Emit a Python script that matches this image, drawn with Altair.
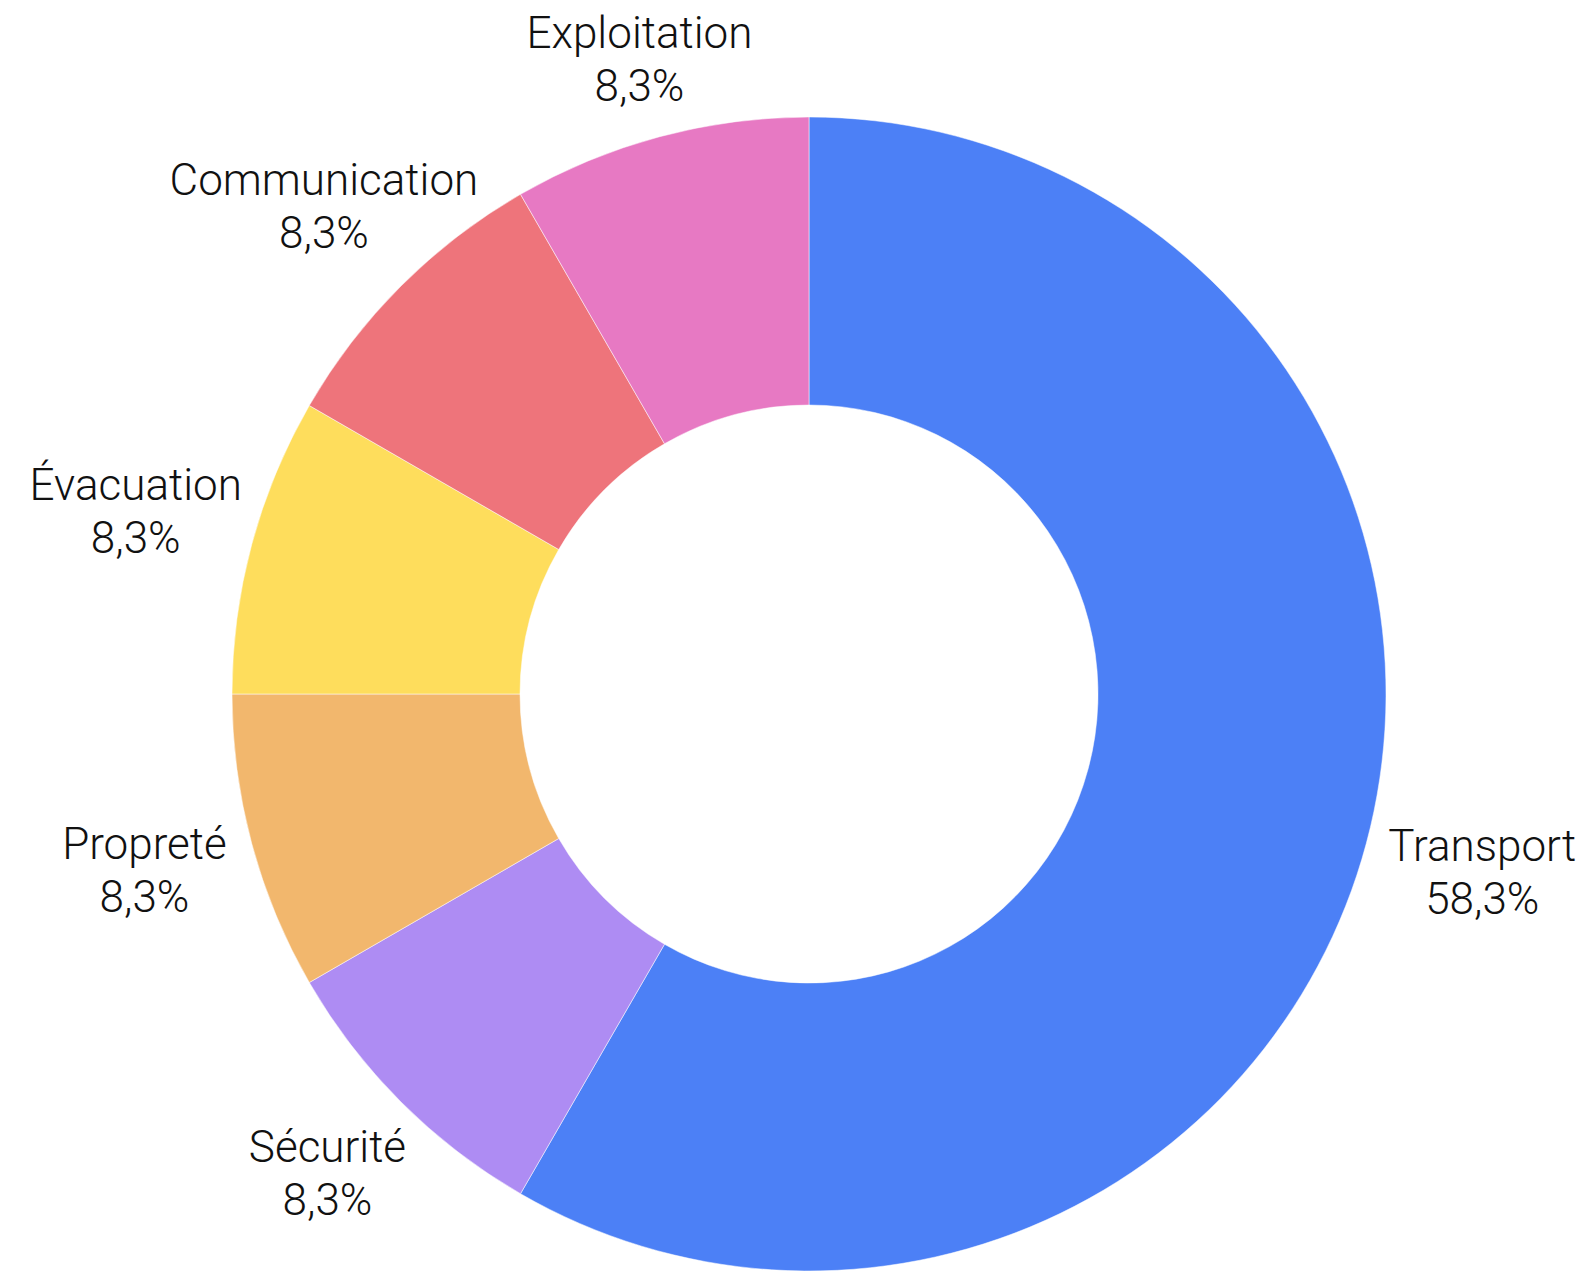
import altair as alt
import pandas as pd

categories = ["Transport", "Sécurité", "Propreté", "Évacuation", "Communication", "Exploitation"]
values = [7, 1, 1, 1, 1, 1]
labels_pct = ["58,3%", "8,3%", "8,3%", "8,3%", "8,3%", "8,3%"]
colors = ["#4C80F6", "#AE8CF3", "#F2B76D", "#FEDD5C", "#EE747B", "#E779C3"]

# label distance from centre (style), per category
label_radius = {
    "Transport": 697,
    "Sécurité": 681,
    "Propreté": 688,
    "Évacuation": 697,
    "Communication": 686,
    "Exploitation": 655,
}

df = pd.DataFrame({
    "category": categories,
    "value": values,
    "pct": labels_pct,
    "order": list(range(len(categories))),
})
df["label"] = df["category"] + "\n" + df["pct"]

total = sum(values)
CX, CY = 801, 686
OUTER, INNER = 577, 289
FONT = "Roboto"
FS = 44
LH = 53

base = alt.Chart(df).transform_window(
    cum="sum(value)", sort=[alt.SortField("order")], frame=[None, 0]
).transform_calculate(
    start="datum.cum - datum.value",
    mid="datum.cum - datum.value / 2",
)

theta_scale = alt.Scale(domain=[0, total], range=[0, 6.283185307179586])

arcs = base.mark_arc(outerRadius=OUTER, innerRadius=INNER, stroke="white", strokeWidth=0.5).encode(
    theta=alt.Theta("start:Q", scale=theta_scale),
    theta2="cum:Q",
    color=alt.Color("category:N", scale=alt.Scale(domain=categories, range=colors), legend=None),
    x=alt.value(CX),
    y=alt.value(CY),
)

layers = [arcs]
for cat in categories:
    layers.append(
        base.transform_filter(alt.datum.category == cat).mark_text(
            radius=label_radius[cat], font=FONT, fontSize=FS, fontWeight=300,
            lineBreak="\n", lineHeight=LH, dy=-LH / 2,
            align="center", baseline="middle", color="#111111",
        ).encode(
            theta=alt.Theta("mid:Q", scale=theta_scale),
            text="label:N",
            x=alt.value(CX),
            y=alt.value(CY),
        )
    )

chart = alt.layer(*layers).properties(
    width=1575, height=1263, padding=0, autosize=alt.AutoSizeParams(type="none")
).configure_view(stroke=None)

chart.save("out.html", embed_options={"renderer": "svg", "actions": False})
